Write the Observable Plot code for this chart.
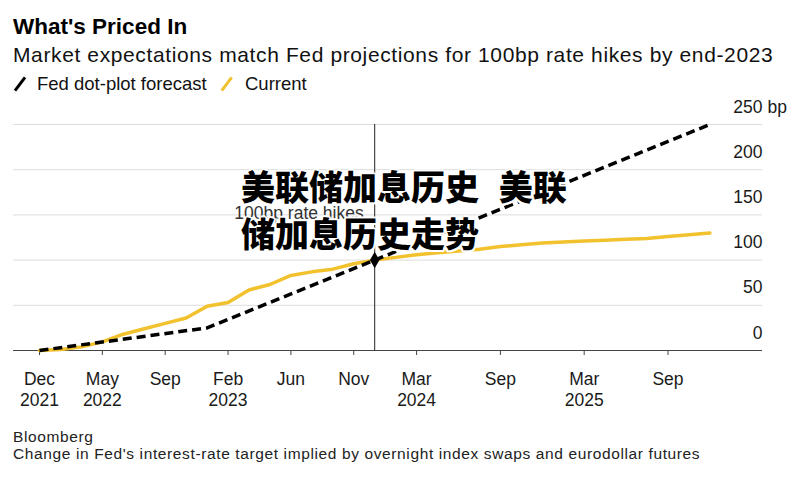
<!DOCTYPE html>
<html>
<head>
<meta charset="utf-8">
<script src="https://cdn.jsdelivr.net/npm/d3@7"></script>
<script src="https://cdn.jsdelivr.net/npm/@observablehq/plot@0.6"></script>
<style>
  html, body { margin: 0; padding: 0; background: #fff; }
  body { width: 807px; height: 477px; position: relative; overflow: hidden;
         font-family: "Liberation Sans", Arial, Helvetica, sans-serif; color: #111; }
  .abs { position: absolute; white-space: nowrap; }
  #title { left: 13px; top: 16px; font-size: 22.5px; line-height: 22.5px; font-weight: bold; color: #000; }
  #subtitle { left: 13px; top: 44px; font-size: 21px; line-height: 21px; letter-spacing: 0.62px; color: #111; }
  #legend { left: 0; top: 75px; font-size: 18.5px; line-height: 18.5px; color: #111; }
  #chart { left: 0; top: 88px; }
  #caption { left: 13px; top: 428px; font-size: 15.5px; line-height: 17px; letter-spacing: 0.62px; color: #222; }
  #watermark { left: 241px; top: 162px; font-family: "Noto Sans CJK SC", sans-serif; font-weight: 900;
               font-size: 34px; line-height: 47px; color: #000; word-spacing: 12px;
               text-shadow: 2px 0 #fff, -2px 0 #fff, 0 2px #fff, 0 -2px #fff, 1.5px 1.5px #fff, -1.5px -1.5px #fff, 1.5px -1.5px #fff, -1.5px 1.5px #fff;
               z-index: 5; }
</style>
</head>
<body>
<div id="title" class="abs"></div>
<div id="subtitle" class="abs"></div>
<div id="legend" class="abs"></div>
<div id="chart" class="abs"></div>
<div id="caption" class="abs"></div>
<div id="watermark" class="abs"></div>
<script>
// ---- Data ----
const titleText = "What's Priced In";
const subtitleText = "Market expectations match Fed projections for 100bp rate hikes by end-2023";
const seriesNames = ["Fed dot-plot forecast", "Current"];
const captionLines = ["Bloomberg", "Change in Fed's interest-rate target implied by overnight index swaps and eurodollar futures"];
const watermarkLines = ["美联储加息历史 美联", "储加息历史走势"];

// FOMC meetings (x axis is one step per meeting)
const meetings = ["Dec 2021","Jan 2022","Mar 2022","May 2022","Jun 2022","Jul 2022","Sep 2022","Nov 2022","Dec 2022",
  "Feb 2023","Mar 2023","May 2023","Jun 2023","Jul 2023","Sep 2023","Nov 2023","Dec 2023",
  "Jan 2024","Mar 2024","May 2024","Jun 2024","Jul 2024","Sep 2024","Nov 2024","Dec 2024",
  "Jan 2025","Mar 2025","May 2025","Jun 2025","Jul 2025","Sep 2025","Oct 2025","Dec 2025"];

// Current market pricing (bp), one value per meeting
const current = [0,1,4,9.5,18,24,30,36,49,53,67,73,83,87,90,96,100,103,106,108,110,112,115,117,119,120,121,122,123,124,126,128,130];

// Fed dot-plot forecast (bp)
const dotPlotMeetings = ["Dec 2021","Dec 2022","Dec 2023","Dec 2024","Dec 2025"];
const dotPlot = [0,25,100,175,250];

// Axis ticks
const xTickMeetings = ["Dec 2021","May 2022","Sep 2022","Feb 2023","Jun 2023","Nov 2023","Mar 2024","Sep 2024","Mar 2025","Sep 2025"];
const xTickLabels = ["Dec\n2021","May\n2022","Sep","Feb\n2023","Jun","Nov","Mar\n2024","Sep","Mar\n2025","Sep"];
const yTicks = [0,50,100,150,200,250];
const yUnit = "bp";

const annotationMeeting = "Dec 2023";
const annotationValue = 100;
const annotationText = "100bp rate hikes";

// ---- Build ----
const idx = m => meetings.indexOf(m);
const currentData = current.map((v, i) => ({x: i, y: v}));
const dotData = dotPlot.map((v, i) => ({x: idx(dotPlotMeetings[i]), y: v}));
const yellow = "#f2c12e";

document.getElementById("title").textContent = titleText;
document.getElementById("subtitle").textContent = subtitleText;
document.getElementById("caption").innerHTML = captionLines.map(s => `<div>${s.replace(/'/g,"&#39;")}</div>`).join("");
document.getElementById("watermark").innerHTML = watermarkLines.map(s => `<div>${s}</div>`).join("");

const leg = document.getElementById("legend");
leg.innerHTML = `
  <svg width="30" height="20" style="position:absolute;left:0;top:0;overflow:visible">
    <line x1="15" y1="15.7" x2="25" y2="2.3" stroke="#000" stroke-width="3"/></svg>
  <span style="position:absolute;left:37px;top:0">${seriesNames[0]}</span>
  <svg width="30" height="20" style="position:absolute;left:0;top:0;overflow:visible">
    <line x1="221.7" y1="15.7" x2="231.7" y2="2.3" stroke="${yellow}" stroke-width="3"/></svg>
  <span style="position:absolute;left:245px;top:0">${seriesNames[1]}</span>`;

const chart = Plot.plot({
  width: 807,
  height: 322,
  marginTop: 36,
  marginBottom: 60,
  marginLeft: 13,
  marginRight: 45,
  style: {fontFamily: "Liberation Sans, Arial, sans-serif", fontSize: "17.5px", color: "#1a1a1a", background: "transparent", overflow: "visible"},
  x: {type: "linear", domain: [-1.241, 34.511]},
  y: {domain: [0, 250]},
  marks: [
    Plot.ruleY(yTicks.filter(d => d !== 0), {stroke: "#dcdcdc", strokeWidth: 1}),
    Plot.axisY({anchor: "right", ticks: yTicks, tickSize: 0, tickPadding: 0, textAnchor: "end",
                dy: -17.5, label: null, fontSize: 17.5, fill: "#1a1a1a"}),
    Plot.text([yUnit], {frameAnchor: "right", y: () => yTicks[yTicks.length - 1], text: d => d,
                        textAnchor: "start", dx: 5, dy: -17.5, fontSize: 17.5, fill: "#1a1a1a"}),
    Plot.axisX({ticks: xTickMeetings.map(idx), tickFormat: d => xTickLabels[xTickMeetings.map(idx).indexOf(d)],
                tickSize: 5, tickPadding: 14, label: null, fontSize: 17.5, lineHeight: 1.23,
                stroke: "#444", fill: "#1a1a1a"}),
    Plot.ruleX([idx(annotationMeeting)], {stroke: "#222", strokeWidth: 1}),
    Plot.text([annotationText], {x: () => idx(annotationMeeting), y: () => 150, text: d => d,
                                 textAnchor: "end", dx: -11, dy: -2, fontSize: 17.5, fill: "#333"}),
    Plot.ruleY([0], {stroke: "#444", strokeWidth: 1.2}),
    Plot.line(currentData, {x: "x", y: "y", stroke: yellow, strokeWidth: 3.5, curve: "linear"}),
    Plot.line(dotData, {x: "x", y: "y", stroke: "#000", strokeWidth: 3.5, strokeDasharray: "9,5", strokeLinecap: "butt"}),
    Plot.dot([{x: idx(annotationMeeting), y: annotationValue}], {x: "x", y: "y", symbol: "diamond", r: 5, fill: "#000", stroke: "none"})
  ]
});
document.getElementById("chart").appendChild(chart);
</script>
</body>
</html>
